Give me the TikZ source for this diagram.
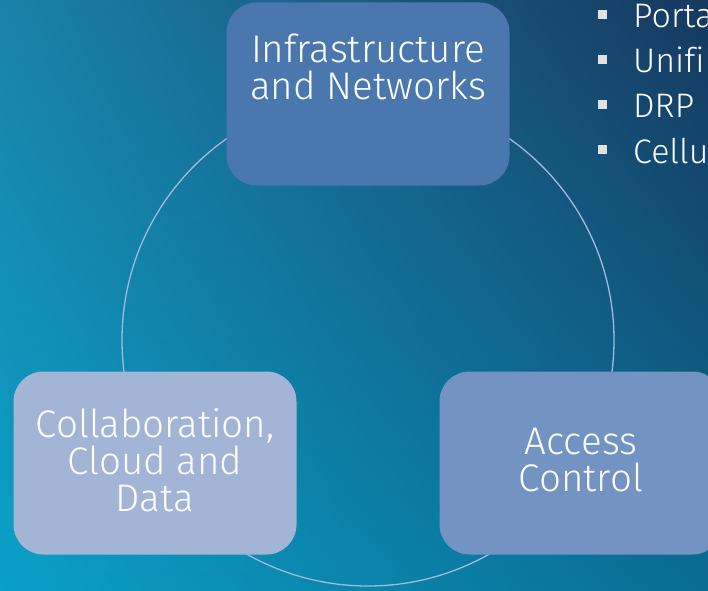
\documentclass[tikz,border=0pt]{standalone}
\usepackage{fontspec}
\setmainfont{Fira Sans Light}[Ligatures=CommonOff]
\usetikzlibrary{positioning,shadings}

\definecolor{bgtl}{HTML}{1A82A8}
\definecolor{bgtr}{HTML}{17385F}
\definecolor{bgbl}{HTML}{0AA0C8}
\definecolor{bgbr}{HTML}{0A6C92}
\definecolor{infracol}{HTML}{4A77AD}
\definecolor{collabcol}{HTML}{A2B5D6}
\definecolor{accesscol}{HTML}{7394C3}
\definecolor{ringcol}{HTML}{A6B6DD}
\definecolor{sqcol}{HTML}{E2E2E2}

\tikzset{
  box/.style={rounded corners=30pt, minimum width=283pt, minimum height=183pt,
    inner sep=0pt, text=white, align=center, font=\fontsize{38.5}{37}\selectfont},
  boxlabel/.style={inner sep=0pt, text=white, align=center, font=\fontsize{38.5}{37}\selectfont},
  ring/.style={color=ringcol, line width=1.3pt},
  sq/.style={fill=sqcol, inner sep=0pt, minimum size=9pt},
  item/.style={text=white, inner sep=0pt, anchor=base west, font=\fontsize{34}{45}\selectfont},
}

\begin{document}
\begin{tikzpicture}[x=1pt,y=1pt]

\useasboundingbox (0,0) rectangle (708,590);
\clip (0,0) rectangle (708,590);

\begin{scope}

\shade[upper left=bgtl, upper right=bgtr, lower left=bgbl, lower right=bgbr] (0,0) rectangle (708,590);

%cycle
\coordinate (c) at (368,250);
\draw[ring] (c) circle (246pt);

%boxes
\node[box, fill=infracol] (infra) at (368,496) {};
\node[boxlabel, below=31pt of infra.north] (infratxt) {Infrastructure\\and Networks};

\node[box, fill=collabcol] (collab) at (155,127) {};
\node[boxlabel, yshift=3pt] (collabtxt) at (collab) {Collaboration,\\Cloud and\\Data};
\node[box, fill=accesscol] (access) at (581,127) {};
\node[boxlabel, yshift=3pt] (accesstxt) at (access) {Access\\Control};

%bullet list
\node[sq] (sq1) at (602,575) {};
\node[sq] (sq2) at (602,530) {};
\node[sq] (sq3) at (602,485) {};
\node[sq] (sq4) at (602,440) {};

\node[item] (it1) at (633,562) {Porta};
\node[item] (it2) at (633,517) {Unifi};
\node[item] (it3) at (633,472) {DRP};
\node[item] (it4) at (633,427) {Cellu};

\end{scope}

\end{tikzpicture}
\end{document}
